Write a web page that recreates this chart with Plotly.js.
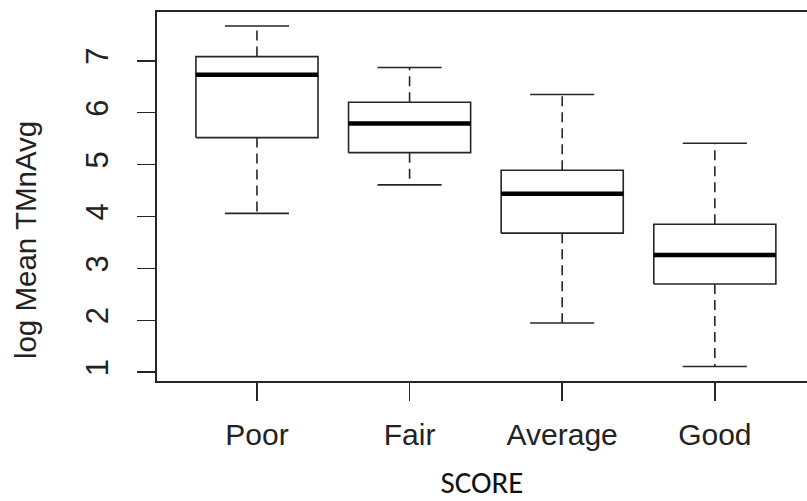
<!DOCTYPE html>
<html>
<head>
<meta charset="utf-8">
<script src="https://cdn.plot.ly/plotly-3.0.1.min.js"></script>
<style>html,body{margin:0;padding:0;background:#fff;}#chart{width:807px;height:501px;}</style>
</head>
<body>
<div id="chart"></div>
<script>
var categories = ["Poor", "Fair", "Average", "Good"];
var lowerWhisker = [4.06, 4.61, 1.95, 1.11];
var q1 = [5.52, 5.23, 3.68, 2.70];
var median = [6.73, 5.79, 4.44, 3.26];
var q3 = [7.08, 6.20, 4.89, 3.85];
var upperWhisker = [7.67, 6.87, 6.35, 5.41];
var yTicks = [1, 2, 3, 4, 5, 6, 7];
var yTitle = "log Mean TMnAvg";
var xTitle = "SCORE";

var BOX_HALF = 0.4, CAP_HALF = 0.21;
var lineCol = "#262626";

var bx = [], by = [], mx = [], my = [], wx = [], wy = [], cx = [], cy = [];
categories.forEach(function (c, i) {
  bx.push(i - BOX_HALF, i + BOX_HALF, i + BOX_HALF, i - BOX_HALF, i - BOX_HALF, null);
  by.push(q1[i], q1[i], q3[i], q3[i], q1[i], null);
  mx.push(i - BOX_HALF, i + BOX_HALF, null);
  my.push(median[i], median[i], null);
  wx.push(i, i, null, i, i, null);
  wy.push(q3[i], upperWhisker[i], null, q1[i], lowerWhisker[i], null);
  cx.push(i - CAP_HALF, i + CAP_HALF, null, i - CAP_HALF, i + CAP_HALF, null);
  cy.push(upperWhisker[i], upperWhisker[i], null, lowerWhisker[i], lowerWhisker[i], null);
});

var traces = [
  {x: wx, y: wy, mode: "lines", line: {color: lineCol, width: 1.6, dash: "10px,6px"}, hoverinfo: "skip"},
  {x: cx, y: cy, mode: "lines", line: {color: lineCol, width: 1.6}, hoverinfo: "skip"},
  {x: bx, y: by, mode: "lines", line: {color: lineCol, width: 1.6}, fill: "none", hoverinfo: "skip"},
  {x: mx, y: my, mode: "lines", line: {color: "#000", width: 4.5}, hoverinfo: "skip"}
];

var layout = {
  width: 807, height: 501,
  margin: {l: 157, r: 0, t: 12, b: 120},
  paper_bgcolor: "#fff", plot_bgcolor: "#fff",
  showlegend: false,
  xaxis: {
    range: [-0.655, 3.604],
    tickvals: categories.map(function (c, i) { return i; }),
    ticktext: categories,
    showgrid: false, zeroline: false,
    showline: true, linecolor: lineCol, linewidth: 1.6, mirror: true,
    ticks: "outside", ticklen: 18, tickwidth: 1.6, tickcolor: lineCol,
    ticklabelstandoff: 8,
    tickfont: {family: "Liberation Sans, Arial", size: 30, color: "#222"},
    title: {text: xTitle, standoff: 28, font: {family: "Carlito, Calibri, Open Sans, sans-serif", size: 31, color: "#111"}}
  },
  yaxis: {
    range: [0.832, 7.939],
    tickvals: yTicks,
    ticktext: yTicks.map(String),
    tickangle: -90,
    showgrid: false, zeroline: false,
    showline: true, linecolor: lineCol, linewidth: 1.6,
    ticks: "outside", ticklen: 18, tickwidth: 1.6, tickcolor: lineCol,
    ticklabelstandoff: 17,
    tickfont: {family: "Liberation Sans, Arial", size: 31, color: "#222"}
  },
  annotations: [{
    text: yTitle, textangle: -90, showarrow: false,
    xref: "paper", yref: "paper", x: -0.203, y: 0.382,
    xanchor: "center", yanchor: "middle",
    font: {family: "Liberation Sans, Arial", size: 29.5, color: "#222"}
  }]
};

Plotly.newPlot("chart", traces, layout, {staticPlot: true, displayModeBar: false});
</script>
</body>
</html>
